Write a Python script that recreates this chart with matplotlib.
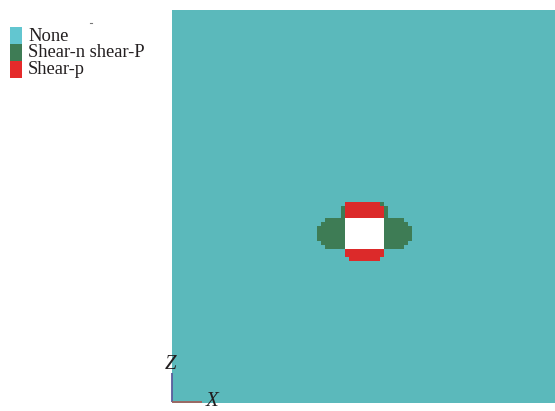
import numpy as np
import matplotlib
matplotlib.use("Agg")
import matplotlib.pyplot as plt
from matplotlib.colors import ListedColormap
from matplotlib.patches import Rectangle

# ---- data ----
categories = ["None", "Shear-n shear-P", "Shear-p"]
cat_colors = ["#5bb9bb", "#3e7c55", "#dc2a2a"]
legend_colors = ["#62c6d0", "#3e7c55", "#e52a2a"]
hole_color = "#ffffff"

n_cells = 100            # zones per side of the model
region_row0 = 49         # first row of the detailed region (from top)
region_col0 = 36         # first column of the detailed region
# '.' = None, 'G' = Shear-n shear-P, 'R' = Shear-p, ' ' = excavated
region = [
    "........RRRRRRRRRG........",
    ".......GRRRRRRRRRRG.......",
    ".......GRRRRRRRRRRG.......",
    ".......GRRRRRRRRRRG.......",
    "...GGGGG          GGGGG...",
    "..GGGGGG          GGGGGG..",
    ".GGGGGGG          GGGGGGG.",
    ".GGGGGGG          GGGGGGG.",
    ".GGGGGGG          GGGGGGG.",
    ".GGGGGGG          GGGGGGG.",
    "..GGGGGG          GGGGGG..",
    "...GGGGG          GGGGG...",
    "........RRRRRRRRRR........",
    "........RRRRRRRRRR........",
    ".........RRRRRRRR.........",
]
code = {".": 0, "G": 1, "R": 2, " ": 3}

grid = np.zeros((n_cells, n_cells), dtype=int)
for i, row in enumerate(region):
    for j, ch in enumerate(row):
        grid[region_row0 + i, region_col0 + j] = code[ch]

W, H = 555, 411
fig = plt.figure(figsize=(W / 100, H / 100), dpi=100)

# model panel
px_left, px_top, px_size = 172, 10, 393
visible = (W - px_left) / px_size
ax = fig.add_axes([px_left / W, 1 - (px_top + px_size) / H,
                   (W - px_left) / W, px_size / H])
cmap = ListedColormap(cat_colors + [hole_color])
ax.imshow(grid, cmap=cmap, vmin=-0.5, vmax=3.5, interpolation="nearest",
          extent=[0, n_cells, n_cells, 0], aspect="auto")
ax.set_xlim(0, n_cells * visible)
ax.set_ylim(n_cells, 0)
ax.axis("off")

# overlay in pixel coordinates
ov = fig.add_axes([0, 0, 1, 1], zorder=5)
ov.set_xlim(0, W)
ov.set_ylim(H, 0)
ov.axis("off")

serif = ["Liberation Serif", "DejaVu Serif"]
sw_x, sw_y0, sw_w, sw_h = 10, 27.5, 12, 16.7
for k, (lab, col) in enumerate(zip(categories, legend_colors)):
    y = sw_y0 + k * sw_h
    ov.add_patch(Rectangle((sw_x, y), sw_w, sw_h, facecolor=col, edgecolor="none"))
    ov.text(28, y + sw_h / 2 + 0.3, lab, fontsize=13.3, family=serif,
            color="#231f20", va="center", ha="left")

# small mark near the legend
ov.plot([90, 92], [23.5, 23.5], color="#777777", lw=0.8)

# axis triad
ov.plot([172, 172], [373, 402], color="#5a5c9c", lw=1.3, solid_capstyle="butt")
ov.plot([172, 202], [402, 402], color="#a0625c", lw=1.3, solid_capstyle="butt")
ov.text(171, 364.5, "Z", fontsize=15, family=serif, style="italic",
        color="#231f20", ha="center", va="center")
ov.text(212, 401.5, "X", fontsize=15, family=serif, style="italic",
        color="#231f20", ha="center", va="center")

fig.savefig("out.png", dpi=100)
